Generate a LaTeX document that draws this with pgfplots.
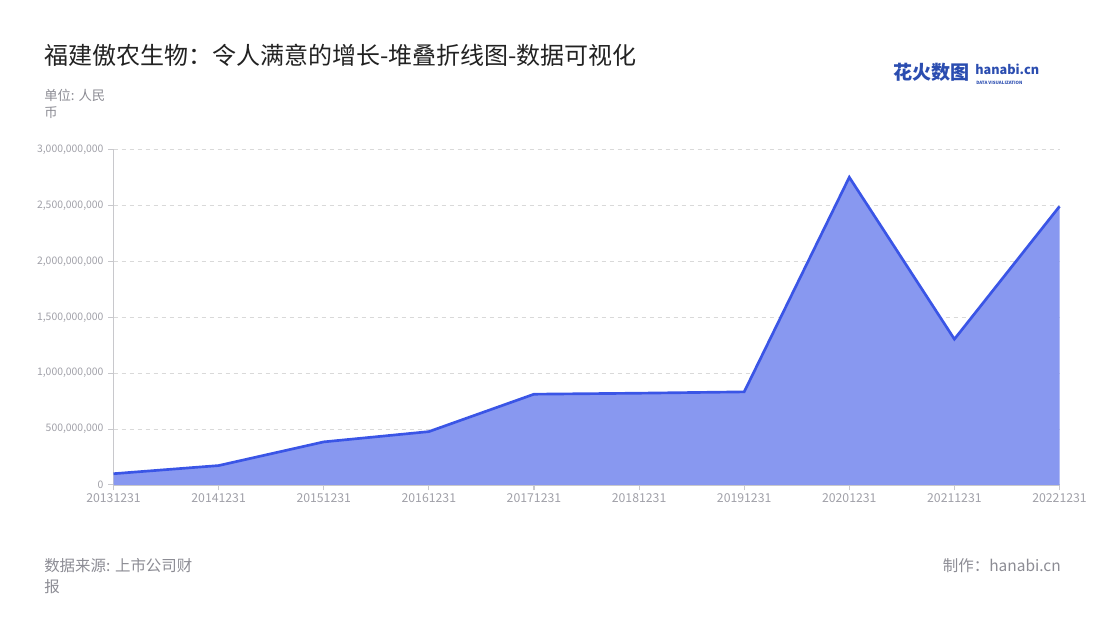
\documentclass[border=0pt]{standalone}
\usepackage{pgfplots}
\pgfplotsset{compat=1.18}
\usepackage{fontspec}
\setmainfont{Noto Sans CJK SC}
\definecolor{fillc}{HTML}{8898F0}
\definecolor{linec}{HTML}{3A55E6}
\definecolor{tickc}{HTML}{A0A0A8}
\definecolor{axisc}{HTML}{C8C8CC}
\definecolor{titlec}{HTML}{222222}
\definecolor{subc}{HTML}{8C8C94}
\definecolor{logoc}{HTML}{2B4DB0}
\begin{document}
\begin{tikzpicture}[x=0.75pt,y=0.75pt]
\path[use as bounding box] (0,0) rectangle (1100,620);
\begin{axis}[
  at={(108,121)}, anchor=south west,
  scale only axis, width=709.5pt, height=251.25pt,
  xmin=0, xmax=9, ymin=0, ymax=3000000000,
  xtick={0,...,9},
  xticklabels={20131231,20141231,20151231,20161231,20171231,20181231,20191231,20201231,20211231,20221231},
  ytick={0,500000000,1000000000,1500000000,2000000000,2500000000,3000000000},
  scaled y ticks=false,
  yticklabel={\pgfmathprintnumber[fixed,1000 sep={,},assume math mode=true]{\tick}},
  axis x line*=bottom, axis y line*=left,
  axis line style={draw=axisc, line width=1pt, -},
  tick align=outside, major tick length=4pt,
  tick style={draw=axisc, line width=0.8pt},
  ymajorgrids, grid style={dashed, draw=black!15, line width=0.6pt},
  x tick label style={font=\fontsize{9.2}{10}\selectfont, text=tickc, yshift=1pt},
  y tick label style={font=\fontsize{7.8}{10}\selectfont, text=tickc},
  clip=false,
]
\addplot[draw=none, fill=fillc] coordinates {
(0,100000000) (1,173000000) (2,385000000) (3,477000000) (4,812000000) (5,821000000) (6,833000000) (7,2755000000) (8,1305000000) (9,2494000000)
} \closedcycle;
\addplot[draw=linec, line width=2pt, line join=miter] coordinates {
(0,100000000) (1,173000000) (2,385000000) (3,477000000) (4,812000000) (5,821000000) (6,833000000) (7,2755000000) (8,1305000000) (9,2494000000)
};
\end{axis}
% title
\node[anchor=west, text=titlec, font=\fontsize{18}{20}\selectfont, inner sep=0pt] at (44,620-55) {福建傲农生物：令人满意的增长-堆叠折线图-数据可视化};
\node[anchor=north west, text=subc, font=\fontsize{10}{13}\selectfont, inner sep=0pt, align=left] at (44,620-89) {单位: 人民\\币};
% footer
\node[anchor=north west, text=subc, font=\fontsize{11.6}{16}\selectfont, inner sep=0pt, align=left] at (44,620-558) {数据来源: 上市公司财\\报};
\node[anchor=north east, text=subc, font=\fontsize{11.6}{16}\selectfont, inner sep=0pt] at (1061,620-558) {制作：hanabi.cn};
% logo
\node[anchor=west, text=logoc, font=\fontsize{14.3}{14}\selectfont\bfseries, inner sep=0pt] at (893,620-72) {花火数图};
\node[anchor=south west, text=logoc, font=\fontsize{9.5}{9.5}\selectfont\bfseries, inner sep=0pt] at (975,620-75) {hanabi.cn};
\node[anchor=north west, text=logoc, font=\fontsize{3.3}{4}\selectfont\bfseries, inner sep=0pt] at (976,620-80.5) {DATA VISUALIZATION};
\end{tikzpicture}
\end{document}
